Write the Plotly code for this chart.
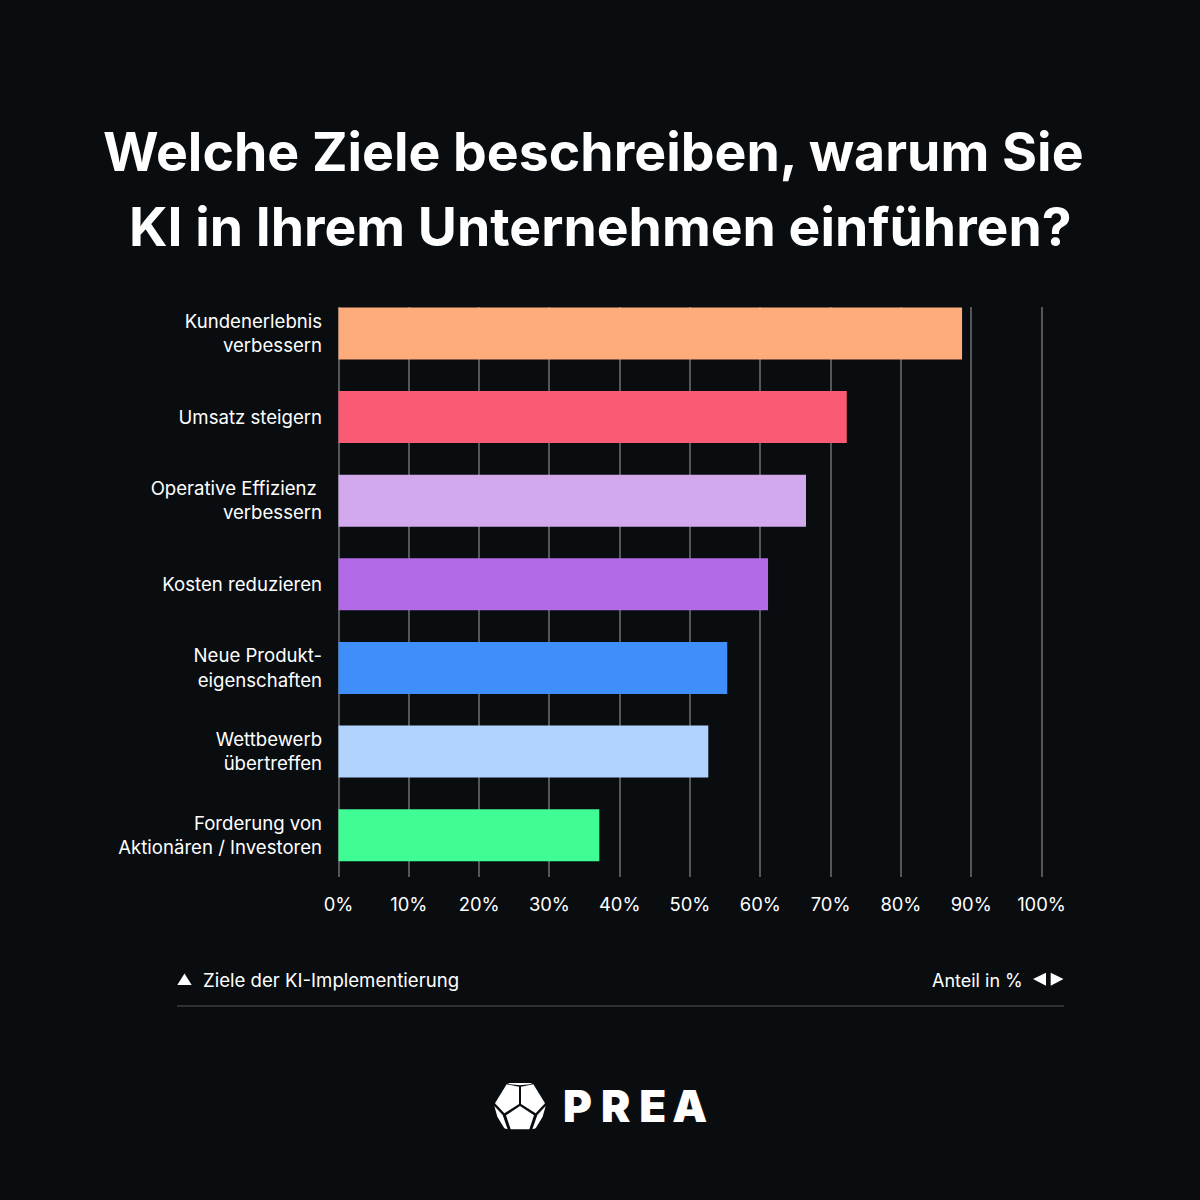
import plotly.graph_objs as go

categorias = ['Kundenerlebnis', 'Umsatz steigern', 'Operative Effizienz', 'Kosten reduzieren',
              'Neue Produkt', 'Wettbewerb', 'Forderung']
rotulos = ['Kundenerlebnis<br>verbessern', 'Umsatz steigern', 'Operative Effizienz\u00a0<br>verbessern',
           'Kosten reduzieren', 'Neue Produkt-<br>eigenschaften', 'Wettbewerb<br>übertreffen',
           'Forderung von<br>Aktionären / Investoren']
valores = [88.7, 72.3, 66.5, 61.1, 55.3, 52.6, 37.1]
cores = ['#FFAC7D', '#FA5A74', '#D3A9EE', '#B36AE6', '#3F8EFC', '#B3D3FF', '#3FFD94']
ticks_x = [0, 10, 20, 30, 40, 50, 60, 70, 80, 90, 100]
ticks_x_txt = ['0%', '10%', '20%', '30%', '40%', '50%', '60%', '70%', '80%', '90%', '100%']

FUNDO = '#090D10'
FONTE = 'Inter'


def px(x):
    return x / 1200


def py(y):
    return 1 - y / 1200


def caminho(pontos):
    txt = 'M ' + ' L '.join(f'{px(x):.5f} {py(y):.5f}' for x, y in pontos) + ' Z'
    return dict(type='path', xref='paper', yref='paper', path=txt,
                fillcolor='white', line=dict(width=0), layer='above')


def logo(pontos):
    # coordenadas do recorte 3x do logo
    return caminho([(470 + x / 3, 1060 + y / 3) for x, y in pontos])


def texto(x, y, t, size=18.6, weight=400, anchor='left'):
    return dict(xref='paper', yref='paper', x=px(x), y=py(y), text=t, showarrow=False,
                xanchor=anchor, yanchor='middle',
                font=dict(family=FONTE, size=size, color='white', weight=weight))


fig = go.Figure(go.Bar(x=valores, y=categorias, orientation='h',
                       marker=dict(color=cores, line=dict(width=0)), hoverinfo='skip'))

formas = [
    caminho([(177.3, 985), (191.7, 985), (184.5, 973.5)]),
    caminho([(1033, 979), (1046, 972.7), (1046, 985.7)]),
    caminho([(1050.7, 972.7), (1050.7, 985.7), (1063.5, 979)]),
    dict(type='line', xref='paper', yref='paper', x0=px(177), x1=px(1064), y0=py(1006), y1=py(1006),
         line=dict(color='#3B3D3F', width=1.5)),
    logo([(113, 69), (187, 69), (180, 73), (150, 76), (120, 73)]),
    logo([(110, 73), (147, 80), (147, 132), (103, 160), (75, 130)]),
    logo([(190, 73), (153, 80), (153, 132), (197, 160), (225, 130)]),
    logo([(150, 138), (192, 166), (178, 208), (122, 208), (108, 166)]),
    logo([(73, 138), (98, 165), (113, 208), (103, 205), (82, 170)]),
    logo([(227, 138), (202, 165), (187, 208), (197, 205), (218, 170)]),
]

notas = [
    texto(593.5, 151, 'Welche Ziele beschreiben, warum Sie', size=53.6, weight=700, anchor='center'),
    texto(600, 226, 'KI in Ihrem Unternehmen einführen?', size=53.5, weight=700, anchor='center'),
    texto(201, 980, 'Ziele der KI-Implementierung'),
    texto(1025, 980, 'Anteil in %', size=18, anchor='right'),
    texto(634.5, 1106, 'P\u2009\u200aR\u2009\u200aE\u2009A', size=44, weight=900, anchor='center'),
]

fig.update_layout(
    width=1200, height=1200, margin=dict(l=0, r=0, t=0, b=0),
    paper_bgcolor=FUNDO, plot_bgcolor=FUNDO, showlegend=False,
    bargap=0.378, shapes=formas, annotations=notas,
    font=dict(family=FONTE, size=18.4, color='white'),
)
# range um pouco maior para o plotly nao cortar as linhas de grade em 0 e 100
fig.update_xaxes(domain=[px(337.09), px(1042.91)], range=[-0.2, 100.2], tickvals=ticks_x, ticktext=ticks_x_txt,
                 showgrid=True, gridcolor='#55585A', gridwidth=1.5, zeroline=False, showline=False,
                 ticks='', ticklabelstandoff=15, automargin=False)
fig.update_yaxes(domain=[py(877), py(307)], range=[6.5, -0.317], tickvals=categorias, ticktext=rotulos,
                 showgrid=False, zeroline=False, showline=False, ticks='', ticklabelstandoff=14,
                 automargin=False, tickfont=dict(family=FONTE, size=18.6, color='white'))

fig.write_html("out.html", config={'displayModeBar': False}, post_script="document.body.style.margin='0';")
